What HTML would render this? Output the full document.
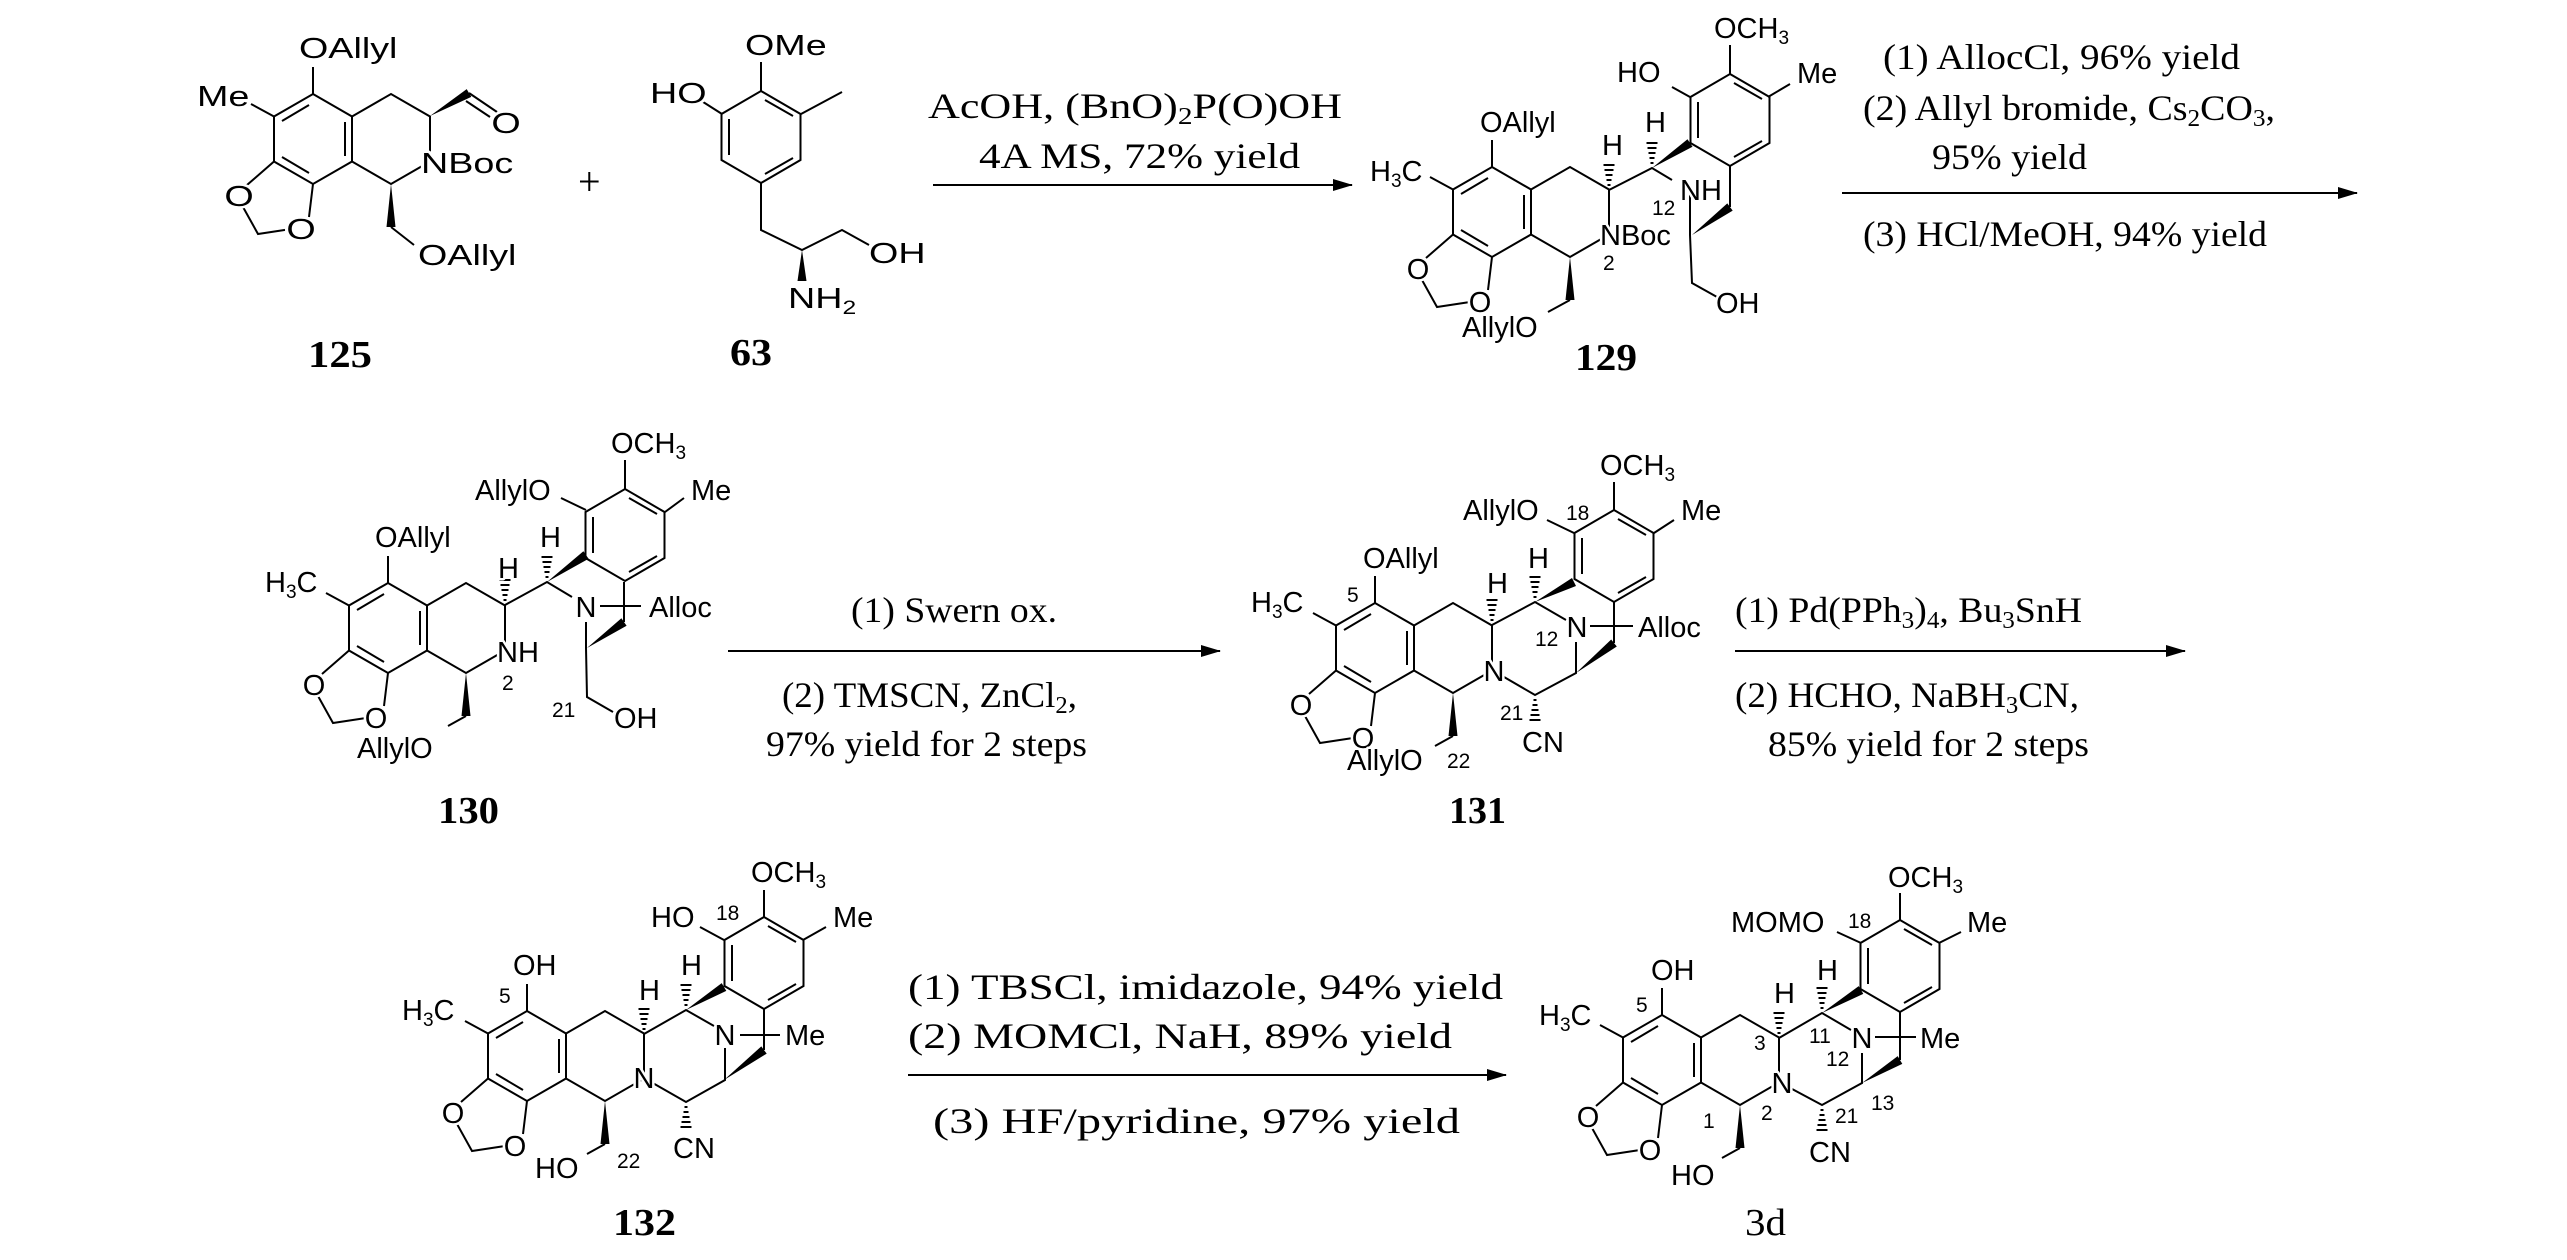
<!DOCTYPE html>
<html><head><meta charset="utf-8"><style>
html,body{margin:0;padding:0;background:#fff;}
svg{display:block;}
text{font-family:"Liberation Sans",sans-serif;font-size:29px;fill:#000;paint-order:stroke;stroke:#fff;stroke-width:5px;stroke-linejoin:round;}
text.w{transform:scaleX(1.3);transform-box:fill-box;transform-origin:0 0;}
text.m{text-anchor:middle;}
text.w.m{transform-origin:50% 0;}
.sm{font-size:21px;}
.c{font-family:"Liberation Serif",serif;font-size:36px;stroke:none;}
.b{font-family:"Liberation Serif",serif;font-size:38px;font-weight:bold;stroke:none;}
.ln{fill:none;stroke:#000;stroke-width:2;}
</style></head><body>
<svg width="2567" height="1260" viewBox="0 0 2567 1260" xmlns="http://www.w3.org/2000/svg">
<defs>
<marker id="ah" markerWidth="20" markerHeight="12" refX="19" refY="6" orient="auto" markerUnits="userSpaceOnUse"><path d="M0,0 L20,6 L0,12 Z" fill="#000"/></marker>
<g id="core">
<path class="ln" d="M0,-45 L39,-22.5 L39,22.5 L0,45 L-39,22.5 L-39,-22.5 Z M-31,-18 L-4,-34 M32,-17 L32,17 M-31,18 L-4,34 M39,-22.5 L78,-45 L117,-22.5 L117,22.5 L78,45 L39,22.5 M-39,22.5 L-66,46 M-70,68 L-55,95 L-22,90 M-4,78 L0,45 M0,-45 L0,-72 M-39,-22.5 L-62,-35"/>
<polygon points="78,45 82.5,88 73.5,88" fill="#000"/>
</g>
<path id="ar" class="ln" d="M0,-46 L39.5,-23 L39.5,23 L0,46 L-39.5,23 L-39.5,-23 Z M4,-37 L32,-21 M-32,-18 L-32,18 M4,37 L32,21"/>
<path id="hu" class="ln" d="M-1.5,-5 L1.5,-5 M-2.5,-10 L2.5,-10 M-3.5,-15 L3.5,-15 M-4.5,-20 L4.5,-20 M-5.5,-25 L5.5,-25"/>
<path id="hd" class="ln" d="M-1.5,5 L1.5,5 M-2.5,10 L2.5,10 M-3.5,15 L3.5,15 M-4.5,20 L4.5,20 M-5.5,25 L5.5,25"/>
</defs>

<!-- ========== 125 ========== -->
<use href="#core" x="313" y="139"/>
<path class="ln" d="M391,227 L414,245 M469,93 L497,112 M466,101 L490,117"/>
<polygon points="430,116 471.3,96.9 466.7,89.1" fill="#000"/>
<text class="w m" x="239" y="206">O</text><text class="w m" x="301" y="239">O</text>
<text class="w" x="299" y="58">OAllyl</text>
<text class="w" x="197" y="106">Me</text>
<text class="w" x="421" y="173">NBoc</text>
<text class="w m" x="506" y="133">O</text>
<text class="w" x="418" y="265">OAllyl</text>
<text class="b" x="308" y="367" textLength="64" lengthAdjust="spacingAndGlyphs">125</text>

<text class="c" x="578" y="195" style="font-size:40px">+</text>

<!-- ========== 63 ========== -->
<use href="#ar" x="761" y="137"/>
<path class="ln" d="M761,91 L761,62 M722,114 L700,100 M801,114 L842,92 M761,183 L761,230 L802,250 L842,230 L869,245"/>
<polygon points="802,250 806.5,281 797.5,281" fill="#000"/>
<text class="w" x="745" y="55">OMe</text>
<text class="w" x="650" y="103">HO</text>
<text class="w" x="869" y="263">OH</text>
<text class="w" x="788" y="308">NH<tspan font-size="19" dy="6">2</tspan></text>
<text class="b" x="730" y="365" textLength="42" lengthAdjust="spacingAndGlyphs">63</text>

<!-- ========== arrow 1 ========== -->
<text class="c" x="928" y="118" textLength="414" lengthAdjust="spacingAndGlyphs">AcOH, (BnO)<tspan font-size="24" dy="6">2</tspan><tspan dy="-6">P(O)OH</tspan></text>
<text class="c" x="979" y="168" textLength="321" lengthAdjust="spacingAndGlyphs">4A MS, 72% yield</text>
<line x1="933" y1="185" x2="1352" y2="185" stroke="#000" stroke-width="2" marker-end="url(#ah)"/>

<!-- ========== 129 ========== -->
<use href="#core" x="1492" y="212"/>
<path class="ln" d="M1570,300 L1548,312 M1609,190 L1652,168 L1672,180 M1690,189 L1690,235 L1692,283 L1717,297 M1730,166 L1730,207 M1690,97 L1672,87 M1730,74 L1730,45 M1768,97 L1790,84"/>
<use href="#ar" x="1730" y="120"/>
<use href="#hu" x="1609" y="190"/><use href="#hu" x="1652" y="168"/>
<polygon points="1652,168 1692.5,146.8 1687.5,139.2" fill="#000"/>
<polygon points="1692,235 1732.7,210.6 1727.3,203.4" fill="#000"/>
<text class="m" x="1418" y="279">O</text><text class="m" x="1480" y="312">O</text>
<text x="1480" y="132">OAllyl</text>
<text x="1370" y="181">H<tspan font-size="19" dy="6">3</tspan><tspan dy="-6">C</tspan></text>
<text x="1600" y="245">NBoc</text>
<text class="sm" x="1603" y="270">2</text>
<text x="1462" y="337">AllylO</text>
<text x="1602" y="155">H</text>
<text x="1645" y="132">H</text>
<text x="1680" y="200">NH</text>
<text class="sm" x="1652" y="215">12</text>
<text x="1716" y="313">OH</text>
<text x="1617" y="82">HO</text>
<text x="1714" y="38">OCH<tspan font-size="19" dy="6">3</tspan></text>
<text x="1797" y="83">Me</text>
<text class="b" x="1575" y="370" textLength="62" lengthAdjust="spacingAndGlyphs">129</text>

<!-- ========== arrow 2 ========== -->
<text class="c" x="1883" y="69" textLength="357" lengthAdjust="spacingAndGlyphs">(1) AllocCl, 96% yield</text>
<text class="c" x="1863" y="120" textLength="412" lengthAdjust="spacingAndGlyphs">(2) Allyl bromide, Cs<tspan font-size="24" dy="6">2</tspan><tspan dy="-6">CO</tspan><tspan font-size="24" dy="6">3</tspan><tspan dy="-6">,</tspan></text>
<text class="c" x="1932" y="169" textLength="155" lengthAdjust="spacingAndGlyphs">95% yield</text>
<line x1="1842" y1="193" x2="2357" y2="193" stroke="#000" stroke-width="2" marker-end="url(#ah)"/>
<text class="c" x="1863" y="246" textLength="404" lengthAdjust="spacingAndGlyphs">(3) HCl/MeOH, 94% yield</text>

<!-- ========== 130 ========== -->
<use href="#core" x="388" y="628"/>
<path class="ln" d="M466,716 L448,726 M505,605 L547,582 L572,597 M586,622 L586,648 L587,697 L613,712 M624,582 L624,622 M600,606 L641,606 M586,510 L561,498 M625,489 L625,460 M665,512 L684,498"/>
<use href="#ar" x="625" y="535"/>
<use href="#hu" x="505" y="605"/><use href="#hu" x="547" y="582"/>
<polygon points="547,582 588.6,558.7 583.4,551.3" fill="#000"/>
<polygon points="587,648 626.6,625.7 621.4,618.3" fill="#000"/>
<text class="m" x="314" y="695">O</text><text class="m" x="376" y="728">O</text>
<text x="375" y="547">OAllyl</text>
<text x="265" y="592">H<tspan font-size="19" dy="6">3</tspan><tspan dy="-6">C</tspan></text>
<text x="497" y="662">NH</text>
<text class="sm" x="502" y="690">2</text>
<text x="357" y="758">AllylO</text>
<text x="498" y="578">H</text>
<text x="540" y="547">H</text>
<text class="m" x="586" y="617">N</text>
<text x="649" y="617">Alloc</text>
<text class="sm" x="552" y="717">21</text>
<text x="614" y="728">OH</text>
<text x="475" y="500">AllylO</text>
<text x="611" y="453">OCH<tspan font-size="19" dy="6">3</tspan></text>
<text x="691" y="500">Me</text>
<text class="b" x="438" y="823" textLength="61" lengthAdjust="spacingAndGlyphs">130</text>

<!-- ========== arrow 3 ========== -->
<text class="c" x="851" y="622" textLength="206" lengthAdjust="spacingAndGlyphs">(1) Swern ox.</text>
<line x1="728" y1="651" x2="1220" y2="651" stroke="#000" stroke-width="2" marker-end="url(#ah)"/>
<text class="c" x="782" y="707" textLength="295" lengthAdjust="spacingAndGlyphs">(2) TMSCN, ZnCl<tspan font-size="24" dy="6">2</tspan><tspan dy="-6">,</tspan></text>
<text class="c" x="766" y="756" textLength="321" lengthAdjust="spacingAndGlyphs">97% yield for 2 steps</text>

<!-- ========== 131 ========== -->
<use href="#core" x="1375" y="648"/>
<path class="ln" d="M1453,736 L1435,746 M1492,625 L1535,602 L1566,620 M1576,642 L1576,673 L1535,695 L1492,670 M1614,602 L1614,643 M1590,626 L1633,626 M1574,533 L1547,520 M1614,510 L1614,482 M1654,533 L1674,520"/>
<use href="#ar" x="1614" y="556"/>
<use href="#hu" x="1492" y="625"/><use href="#hu" x="1535" y="602"/><use href="#hd" x="1535" y="695"/>
<polygon points="1535,602 1576,586 1572,578" fill="#000"/>
<polygon points="1576,673 1616.8,646.5 1611.2,639.5" fill="#000"/>
<text class="m" x="1301" y="715">O</text><text class="m" x="1363" y="748">O</text>
<text x="1363" y="568">OAllyl</text>
<text class="sm" x="1347" y="602">5</text>
<text x="1251" y="612">H<tspan font-size="19" dy="6">3</tspan><tspan dy="-6">C</tspan></text>
<text class="m" x="1494" y="681">N</text>
<text x="1347" y="770">AllylO</text>
<text class="sm" x="1447" y="768">22</text>
<text x="1487" y="593">H</text>
<text x="1528" y="568">H</text>
<text class="m" x="1577" y="637">N</text>
<text class="sm" x="1535" y="646">12</text>
<text x="1638" y="637">Alloc</text>
<text class="sm" x="1500" y="720">21</text>
<text x="1522" y="752">CN</text>
<text x="1463" y="520">AllylO</text>
<text class="sm" x="1566" y="520">18</text>
<text x="1600" y="475">OCH<tspan font-size="19" dy="6">3</tspan></text>
<text x="1681" y="520">Me</text>
<text class="b" x="1449" y="823" textLength="57" lengthAdjust="spacingAndGlyphs">131</text>

<!-- ========== arrow 4 ========== -->
<text class="c" x="1735" y="622" textLength="347" lengthAdjust="spacingAndGlyphs">(1) Pd(PPh<tspan font-size="24" dy="6">3</tspan><tspan dy="-6">)</tspan><tspan font-size="24" dy="6">4</tspan><tspan dy="-6">, Bu</tspan><tspan font-size="24" dy="6">3</tspan><tspan dy="-6">SnH</tspan></text>
<line x1="1735" y1="651" x2="2185" y2="651" stroke="#000" stroke-width="2" marker-end="url(#ah)"/>
<text class="c" x="1735" y="707" textLength="344" lengthAdjust="spacingAndGlyphs">(2) HCHO, NaBH<tspan font-size="24" dy="6">3</tspan><tspan dy="-6">CN,</tspan></text>
<text class="c" x="1768" y="756" textLength="321" lengthAdjust="spacingAndGlyphs">85% yield for 2 steps</text>

<!-- ========== 132 ========== -->
<use href="#core" x="527" y="1056"/>
<path class="ln" d="M605,1144 L587,1154 M644,1034 L686,1010 L714,1026 M725,1048 L725,1080 L686,1102 L644,1078 M764,1008 L764,1050 M740,1035 L780,1035 M724,940 L700,927 M764,918 L764,890 M803,940 L826,927"/>
<use href="#ar" x="764" y="963"/>
<use href="#hu" x="644" y="1034"/><use href="#hu" x="686" y="1010"/><use href="#hd" x="686" y="1102"/>
<polygon points="686,1010 726.3,990.9 721.7,983.1" fill="#000"/>
<polygon points="724,1080 766.7,1053.6 761.3,1046.4" fill="#000"/>
<text class="m" x="453" y="1123">O</text><text class="m" x="515" y="1156">O</text>
<text x="513" y="975">OH</text>
<text class="sm" x="499" y="1003">5</text>
<text x="402" y="1020">H<tspan font-size="19" dy="6">3</tspan><tspan dy="-6">C</tspan></text>
<text class="m" x="644" y="1088">N</text>
<text x="535" y="1178">HO</text>
<text class="sm" x="617" y="1168">22</text>
<text x="639" y="1000">H</text>
<text x="681" y="975">H</text>
<text class="m" x="725" y="1045">N</text>
<text x="785" y="1045">Me</text>
<text x="673" y="1158">CN</text>
<text x="651" y="927">HO</text>
<text class="sm" x="716" y="920">18</text>
<text x="751" y="882">OCH<tspan font-size="19" dy="6">3</tspan></text>
<text x="833" y="927">Me</text>
<text class="b" x="613" y="1235" textLength="63" lengthAdjust="spacingAndGlyphs">132</text>

<!-- ========== arrow 5 ========== -->
<text class="c" x="908" y="999" textLength="595" lengthAdjust="spacingAndGlyphs">(1) TBSCl, imidazole, 94% yield</text>
<text class="c" x="908" y="1048" textLength="544" lengthAdjust="spacingAndGlyphs">(2) MOMCl, NaH, 89% yield</text>
<line x1="908" y1="1075" x2="1506" y2="1075" stroke="#000" stroke-width="2" marker-end="url(#ah)"/>
<text class="c" x="933" y="1133" textLength="527" lengthAdjust="spacingAndGlyphs">(3) HF/pyridine, 97% yield</text>

<!-- ========== 3d ========== -->
<use href="#core" x="1662" y="1060"/>
<path class="ln" d="M1740,1148 L1722,1158 M1779,1038 L1822,1013 L1851,1030 M1862,1053 L1862,1083 L1822,1105 L1779,1082 M1900,1012 L1900,1060 M1875,1037 L1916,1037 M1861,943 L1837,932 M1900,920 L1900,893 M1939,943 L1961,932"/>
<use href="#ar" x="1900" y="966"/>
<use href="#hu" x="1779" y="1038"/><use href="#hu" x="1822" y="1013"/><use href="#hd" x="1822" y="1105"/>
<polygon points="1822,1013 1863.3,993.9 1858.7,986.1" fill="#000"/>
<polygon points="1862,1083 1902.3,1063.9 1897.7,1056.1" fill="#000"/>
<text class="m" x="1588" y="1127">O</text><text class="m" x="1650" y="1160">O</text>
<text x="1651" y="980">OH</text>
<text class="sm" x="1636" y="1012">5</text>
<text x="1539" y="1025">H<tspan font-size="19" dy="6">3</tspan><tspan dy="-6">C</tspan></text>
<text class="m" x="1782" y="1093">N</text>
<text class="sm" x="1761" y="1120">2</text>
<text class="sm" x="1703" y="1128">1</text>
<text class="sm" x="1754" y="1050">3</text>
<text x="1671" y="1185">HO</text>
<text x="1774" y="1003">H</text>
<text x="1817" y="980">H</text>
<text class="sm" x="1809" y="1043">11</text>
<text class="sm" x="1826" y="1066">12</text>
<text class="m" x="1862" y="1048">N</text>
<text x="1920" y="1048">Me</text>
<text class="sm" x="1835" y="1123">21</text>
<text class="sm" x="1871" y="1110">13</text>
<text x="1809" y="1162">CN</text>
<text x="1731" y="932">MOMO</text>
<text class="sm" x="1848" y="928">18</text>
<text x="1888" y="887">OCH<tspan font-size="19" dy="6">3</tspan></text>
<text x="1967" y="932">Me</text>
<text class="b" x="1745" y="1235" textLength="41" lengthAdjust="spacingAndGlyphs" style="font-weight:normal">3d</text>
</svg>
</body></html>
